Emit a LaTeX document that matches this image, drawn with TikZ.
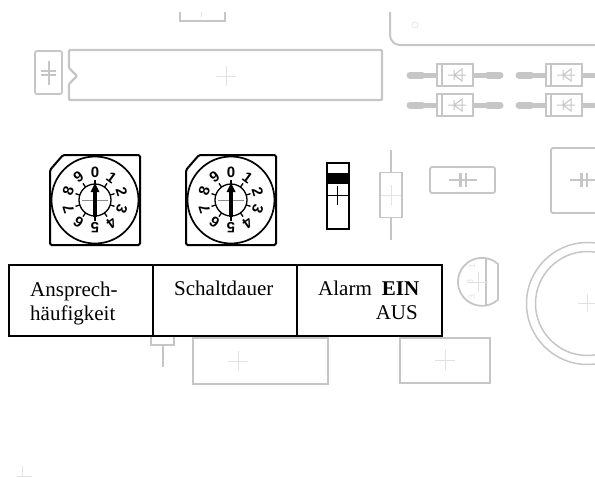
\documentclass[tikz,border=0pt]{standalone}
\usepackage{fontspec}
\setmainfont{Liberation Serif}
\newfontfamily\dialfont{Liberation Sans}
\usepackage{xcolor}
\definecolor{partgrey}{HTML}{C6C6C6}
\definecolor{crossgrey}{HTML}{E2E2E2}

\newcommand{\crossmark}[2]{
    \draw[crossgrey, line width=0.6pt] (#1-10,#2) -- (#1+10,#2) (#1,#2-10) -- (#1,#2+10);
}

\newcommand{\dial}[3]{
    % housing, dial disc and index
    \draw[line width=2pt, rounded corners=1.5pt] (#2-45,#3-30) -- (#2-32,#3-45) -- (#2+45,#3-45) -- (#2+45,#3+45) -- (#2-45,#3+45) -- cycle;
    \node[circle, draw, line width=1.7pt, fill=white, minimum size=87pt, inner sep=0pt] (#1) at (#2,#3) {};
    \node[circle, draw, line width=1.3pt, minimum size=32pt, inner sep=0pt] (#1in) at (#2,#3) {};
    \foreach \n in {0,...,9} {
        \draw[line width=1.3pt] ({#2+16*sin(36*\n)},{#3-16*cos(36*\n)}) -- ({#2+20.5*sin(36*\n)},{#3-20.5*cos(36*\n)});
        \node[rotate=-36*\n, inner sep=0pt, font=\dialfont\bfseries\fontsize{15}{15}\selectfont] (#1d\n) at ({#2+28*sin(36*\n)},{#3-28*cos(36*\n)}) {\n};
    }
    \draw[black!45, line width=0.5pt] (#2-13,#3) -- (#2+13,#3);
    \draw[line width=4.5pt] (#2,#3+17) -- (#2,#3-9);
    \fill (#2,#3-17) -- (#2+4.5,#3-8) -- (#2-4.5,#3-8) -- cycle;
}

\newcommand{\diode}[3]{
    \draw[partgrey, line width=7pt, line cap=round] (#2-45,#3) -- (#2-33,#3) (#2+33,#3) -- (#2+45,#3);
    \draw[partgrey, line width=5pt] (#2-33,#3) -- (#2-14,#3) (#2+14,#3) -- (#2+33,#3);
    \draw[partgrey, line width=1.8pt, fill=white] (#2-18,#3-11) rectangle (#2+18,#3+11);
    \draw[partgrey, line width=1.6pt] (#2-13,#3-11) -- (#2-13,#3+11);
    \draw[partgrey, line width=1pt] (#2-7,#3) -- (#2+11,#3) (#2-1,#3-5) -- (#2-1,#3+5) (#2+7,#3-6) -- (#2+7,#3+6) -- (#2-1,#3) -- cycle;
}

\newcommand{\capsym}[2]{
    \draw[partgrey, line width=1.4pt] (#1-14,#2) -- (#1+14,#2);
    \draw[partgrey, line width=3pt] (#1-3,#2-7) -- (#1-3,#2+7);
    \draw[partgrey, line width=2pt] (#1+3,#2-7) -- (#1+3,#2+7);
}

\begin{document}
\begin{tikzpicture}[
        x=1pt, y=-1pt,
        part/.style={draw=partgrey, line width=1.8pt},
        cell/.style={rectangle, draw, line width=2pt, minimum width=144pt, minimum height=71pt, inner sep=0pt},
        celltext/.style={inner sep=0pt, font=\fontsize{21}{24}\selectfont, anchor=base west},
        pinmark/.style={inner sep=0pt, text=crossgrey, rotate=90, font=\dialfont\fontsize{9}{9}\selectfont}
    ]
    \useasboundingbox (0,0) rectangle (595,477);

    % grey parts, top
    \draw[part] (180,12) -- (180,21) -- (225,21) -- (225,12);
    \draw[crossgrey, line width=0.6pt] (201,12) -- (201,17);
    \draw[part, line width=2pt] (390,12) -- (390,35) arc[start angle=180, end angle=90, radius=10] -- (595,45);
    \draw[crossgrey, line width=0.6pt] (415,25) circle[radius=3];

    \draw[part, rounded corners=2pt] (35,51) rectangle (62,94);
    \draw[partgrey, line width=1.6pt] (49,61) -- (49,85);
    \draw[partgrey, line width=2.2pt] (41,71) -- (56,71) (41,75) -- (56,75);
    \draw[part, line width=2.2pt, rounded corners=1pt] (69,50) -- (382,50) -- (382,100) -- (69,100) -- (69,84) -- (77,76) -- (69,68) -- cycle;
    \crossmark{226}{76}

    \diode{d1}{455}{75}
    \diode{d2}{455}{105}
    \diode{d3}{564}{75}
    \diode{d4}{564}{105}

    % grey parts, middle
    \node[part, rectangle, minimum width=22pt, minimum height=45pt, inner sep=0pt] (res) at (391,195) {};
    \coordinate (resa) at (391,150);
    \coordinate (resb) at (391,240);
    \draw[part] (res.north) -- (resa) (res.south) -- (resb);
    \draw[crossgrey, line width=0.5pt] (381,195) -- (401,195) (391,185) -- (391,205);

    \draw[part, rounded corners=2pt] (430,167) rectangle (495,193);
    \capsym{463}{180}
    \draw[part, rounded corners=2pt] (551,148) rectangle (610,213);
    \capsym{584}{180}

    \draw[partgrey, line width=1.6pt] (486,259) -- (486,305);
    \draw[part] (498,264) arc[start angle=-48, end angle=-312, radius=24] -- cycle;
    \draw[crossgrey, line width=0.6pt] (468,282) -- (488,282) (478,272) -- (478,292);
    \node[pinmark] (pin1) at (472,266) {1};
    \node[pinmark] (pin2) at (470,282) {3};
    \node[pinmark] (pin3) at (472,297) {3};
    \draw[part, line width=1.5pt] (587.5,303.5) circle[radius=61];
    \draw[part, line width=1.5pt] (587.5,303.5) circle[radius=52];
    \draw[crossgrey, line width=0.6pt] (578,303) -- (595,303) (587,294) -- (587,312);

    % grey parts, below the labels
    \draw[part] (151,336) -- (151,345) -- (174,345) -- (174,336);
    \draw[part] (163,345) -- (163,367);
    \draw[part] (193,338) rectangle (328,384);
    \crossmark{238}{361}
    \draw[part] (400,338) rectangle (490,383);
    \crossmark{445}{360}
    \draw[crossgrey, line width=0.6pt] (22,466) -- (22,476) (17,476) -- (32,476);

    % dials and switch
    \dial{dialA}{95}{200}
    \dial{dialB}{231}{200}

    \node[rectangle, draw, line width=2pt, minimum width=22pt, minimum height=66pt, inner sep=0pt] (switch) at (337.5,195.5) {};
    \fill (326,173) rectangle (349,184);
    \draw[line width=0.6pt] (switch.west) -- (switch.east) (337.5,186) -- (337.5,205);

    % label row
    \node[cell] (cellA) at (81,300) {};
    \node[cell, minimum width=144pt] (cellB) at (225,300) {};
    \node[cell, minimum width=145pt] (cellC) at (369.5,300) {};

    \node[celltext] (ansp) at (30,296) {Ansprech-};
    \node[celltext] (haeuf) at (30,320) {häufigkeit};
    \node[celltext] (schalt) at (174,295) {Schaltdauer};
    \node[celltext] (alarm) at (318,295) {Alarm};
    \node[celltext, anchor=base east] (ein) at (419.5,295) {\textbf{EIN}};
    \node[celltext, anchor=base east] (aus) at (418,319) {AUS};
\end{tikzpicture}
\end{document}
